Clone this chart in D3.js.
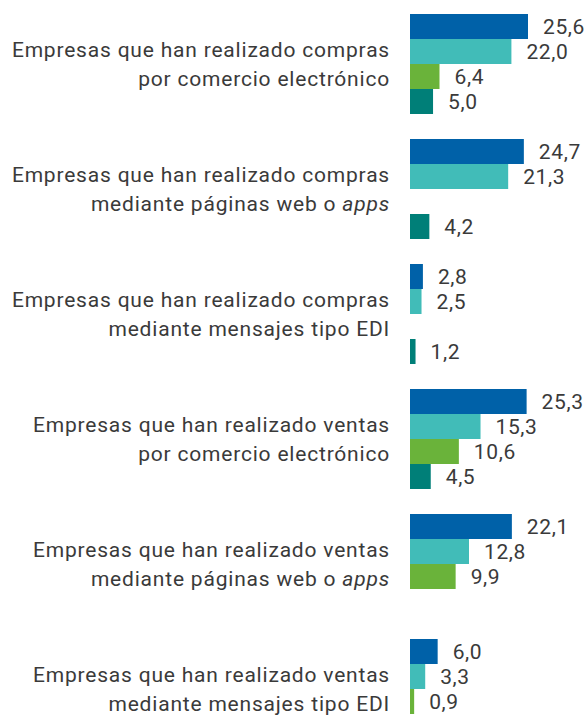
<!DOCTYPE html>
<html>
<head>
<meta charset="utf-8">
<script src="https://cdn.jsdelivr.net/npm/d3@7"></script>
<style>
  body { margin: 0; background: #fff; }
  text { font-family: Roboto, "Noto Sans", sans-serif; fill: #3a3a3a; }
</style>
</head>
<body>
<script>
// categories (two text lines each, italic part marked with *)
var categories = [
  ["Empresas que han realizado compras", "por comercio electrónico"],
  ["Empresas que han realizado compras", "mediante páginas web o *apps*"],
  ["Empresas que han realizado compras", "mediante mensajes tipo EDI"],
  ["Empresas que han realizado ventas", "por comercio electrónico"],
  ["Empresas que han realizado ventas", "mediante páginas web o *apps*"],
  ["Empresas que han realizado ventas", "mediante mensajes tipo EDI"]
];
var seriesKeys = ["s1", "s2", "s3", "s4"];
var colors = ["#0061a8", "#41bcb8", "#6ab33a", "#007f78"];

// values per series (null = no bar)
var s1 = [25.6, 24.7, 2.8, 25.3, 22.1, 6.0];
var s2 = [22.0, 21.3, 2.5, 15.3, 12.8, 3.3];
var s3 = [6.4, null, null, 10.6, 9.9, 0.9];
var s4 = [5.0, 4.2, 1.2, 4.5, null, null];
var seriesValues = [s1, s2, s3, s4];

var width = 587, height = 715;
var barLeft = 410;

var svg = d3.select("body").append("svg")
    .attr("width", width)
    .attr("height", height);

var y0 = d3.scaleBand()
    .domain(d3.range(categories.length))
    .range([14, 739])
    .paddingInner(0.2)
    .paddingOuter(0);

var y1 = d3.scaleBand()
    .domain(seriesKeys)
    .range([0, y0.bandwidth()])
    .padding(0);

var x = d3.scaleLinear()
    .domain([0, 25.6])
    .range([barLeft, barLeft + 118]);

var fmt = function(v) { return d3.format(".1f")(v).replace(".", ","); };

var group = svg.selectAll(".grp")
    .data(categories)
  .enter().append("g")
    .attr("class", "grp")
    .attr("transform", function(d, i) { return "translate(0," + y0(i) + ")"; });

group.each(function(cat, i) {
  var g = d3.select(this);
  var bars = [];
  seriesKeys.forEach(function(k, j) {
    var v = seriesValues[j][i];
    if (v != null) bars.push({key: k, value: v, color: colors[j]});
  });

  g.selectAll("rect")
      .data(bars)
    .enter().append("rect")
      .attr("x", x(0))
      .attr("y", function(d) { return y1(d.key); })
      .attr("width", function(d) { return x(d.value) - x(0); })
      .attr("height", y1.bandwidth())
      .attr("fill", function(d) { return d.color; });

  g.selectAll("text.val")
      .data(bars)
    .enter().append("text")
      .attr("class", "val")
      .attr("x", function(d) { return x(d.value) + 15; })
      .attr("y", function(d) { return y1(d.key) + y1.bandwidth() / 2; })
      .attr("dy", "0.36em")
      .style("font-size", "21px")
      .style("letter-spacing", "0.6px")
      .text(function(d) { return fmt(d.value); });

  // category label, two lines, right aligned
  var label = g.append("text")
      .attr("text-anchor", "end")
      .style("font-size", "21px")
      .style("letter-spacing", "0.8px");
  cat.forEach(function(line, li) {
    var t = label.append("tspan")
        .attr("x", 390)
        .attr("y", y0.bandwidth() / 2 + (li === 0 ? -14.5 : 14.5))
        .attr("dy", "0.36em");
    line.split("*").forEach(function(part, pi) {
      if (!part) return;
      t.append("tspan")
          .style("font-style", pi % 2 === 1 ? "italic" : "normal")
          .text(part);
    });
  });
});
</script>
</body>
</html>
